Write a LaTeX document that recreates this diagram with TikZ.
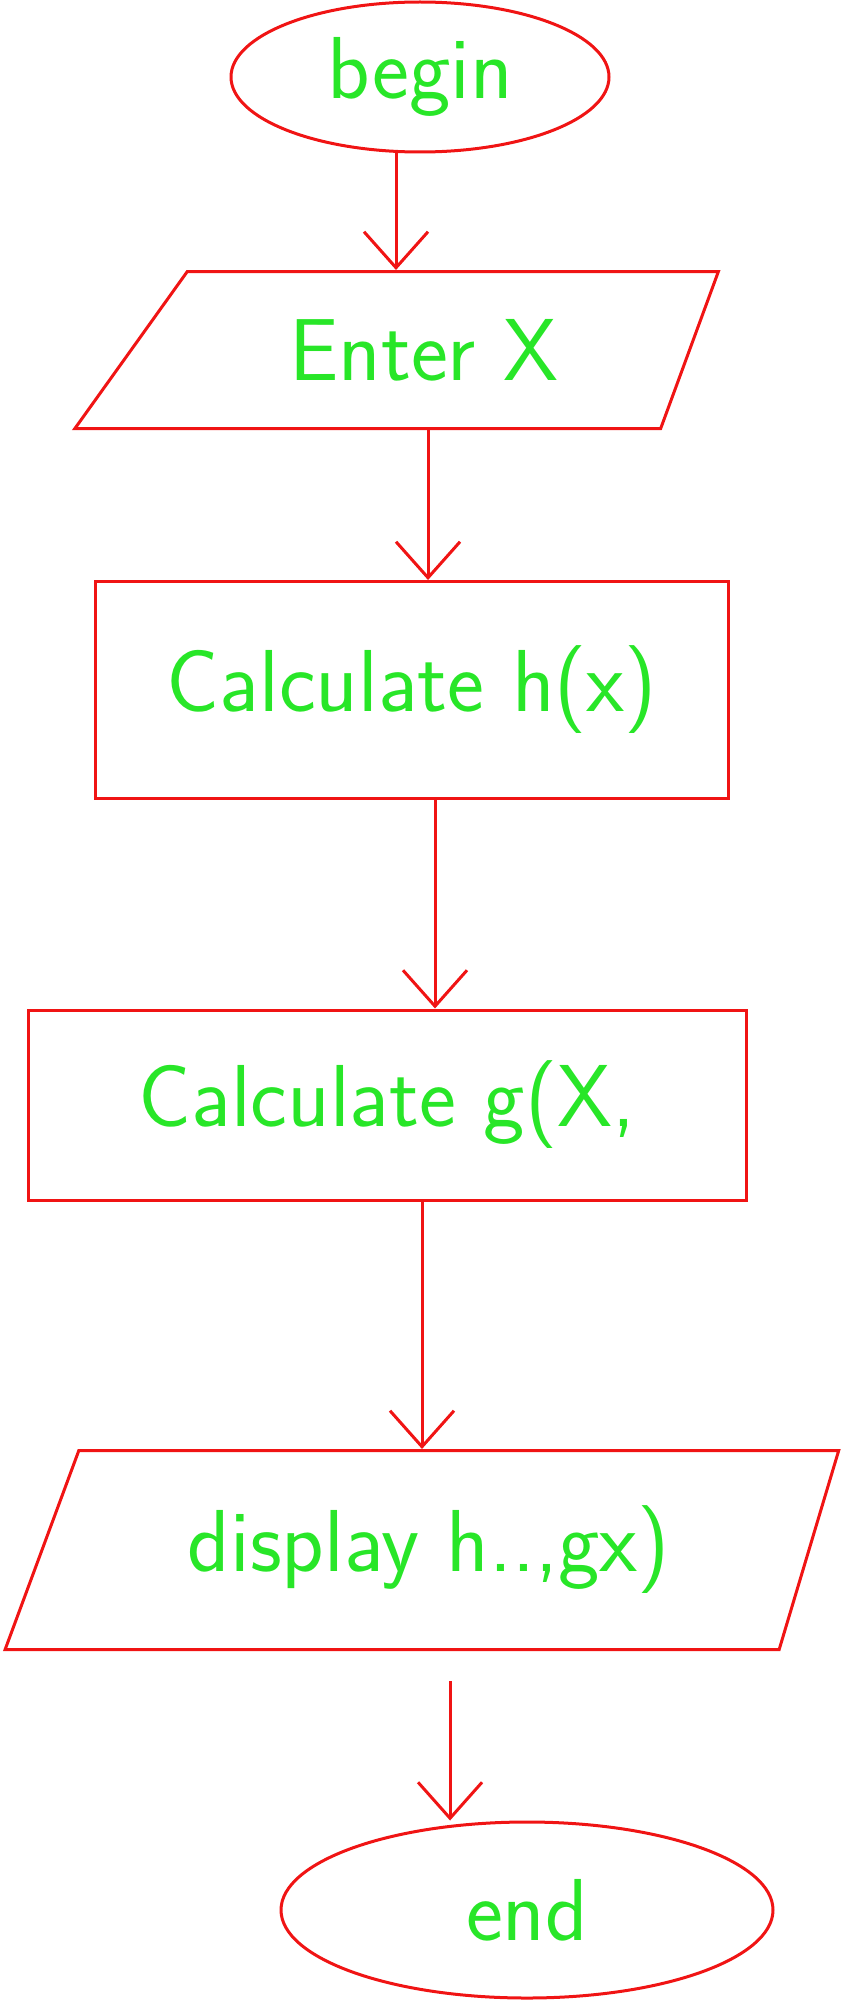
\documentclass[tikz,border=0pt]{standalone}
\usepackage{tikz}
\usetikzlibrary{shapes.geometric,arrows.meta}
\definecolor{penred}{RGB}{240,20,20}
\definecolor{pengreen}{RGB}{40,230,40}

\begin{document}
\begin{tikzpicture}[x=1pt,y=-1pt,
  pen/.style={draw=penred,line width=3pt,text=pengreen,inner sep=0pt,font=\fontsize{88}{96}\selectfont\sffamily},
  term/.style={pen,ellipse},
  io/.style={pen,trapezium,trapezium stretches=true},
  proc/.style={pen,rectangle},
  flow/.style={penred,line width=3pt,-{Straight Barb[length=36pt,width=64pt,line width=3pt]}}]
\useasboundingbox (0,0) rectangle (844,2004);
%================================================================
%	Start / stop
\node[term, minimum width=378, minimum height=150] (start) at (420,77) {begin};
\node[term, minimum width=492, minimum height=176] (stop) at (527,1910) {end};

%================================================================
%	Input / output
\node[io, minimum width=647, minimum height=157,
  trapezium left angle=44, trapezium right angle=118] (enter) at (424,350) {Enter X};
\node[io, minimum width=835, minimum height=199,
  trapezium left angle=60, trapezium right angle=115] (display) at (429,1550) {display h..,gx)};

%================================================================
%	Process boxes
\node[proc, minimum width=633, minimum height=217] (calch) at (412,690) {Calculate h(x)};
\node[proc, minimum width=718, minimum height=190] (calcg) at (387,1105) {Calculate g(X,};

%================================================================
%	Arrows
\draw[flow] ([xshift=-24pt]start.south) -- ([xshift=-24pt]start.south |- enter.north);
\draw[flow] ([xshift=4pt]enter.south) -- ([xshift=4pt]enter.south |- calch.north);
\draw[flow] ([xshift=23pt]calch.south) -- ([xshift=23pt]calch.south |- calcg.north);
\draw[flow] ([xshift=35pt]calcg.south) -- ([xshift=35pt]calcg.south |- display.north);
\draw[flow, shorten <=30pt] ([xshift=21pt]display.south) -- ([xshift=21pt]display.south |- stop.north);
%================================================================
\end{tikzpicture}
\end{document}
